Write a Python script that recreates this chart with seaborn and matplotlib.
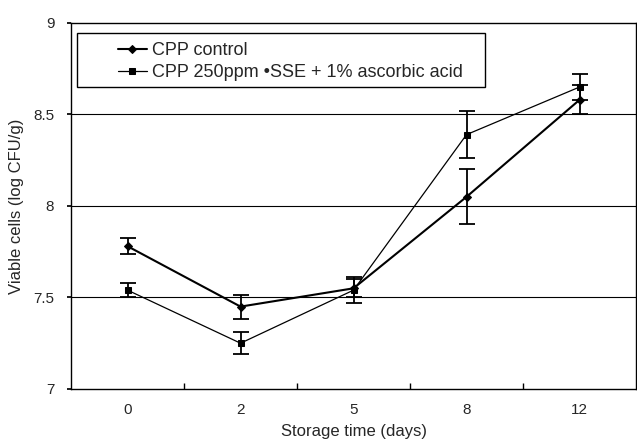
import numpy as np
import pandas as pd
import seaborn as sns
import matplotlib.pyplot as plt
from matplotlib.patches import Rectangle

days = ['0', '2', '5', '8', '12']
control = [7.78, 7.45, 7.55, 8.05, 8.58]
control_err = [0.045, 0.065, 0.05, 0.15, 0.08]
treated = [7.54, 7.25, 7.54, 8.39, 8.65]
treated_err = [0.04, 0.06, 0.07, 0.13, 0.07]
labels = ['CPP control', 'CPP 250ppm \u2022SSE + 1% ascorbic acid']

sns.set_theme(style="white")
plt.rcParams['font.family'] = ['Liberation Sans', 'DejaVu Sans']

pos = np.arange(len(days))
df = pd.DataFrame({
    'pos': np.concatenate([pos, pos]),
    'value': control + treated,
    'err': control_err + treated_err,
    'series': [labels[0]] * len(days) + [labels[1]] * len(days),
})

fig = plt.figure(figsize=(6.37, 4.42), dpi=100)
ax = fig.add_axes([0.1115, 0.12, 0.887, 0.828])

for lab, mk, ms, lw in [(labels[0], 'D', 4, 1.5), (labels[1], 's', 5, 0.9)]:
    d = df[df['series'] == lab]
    ax.errorbar(d['pos'], d['value'], yerr=d['err'], fmt='none',
                ecolor='black', elinewidth=1.3, capsize=6, capthick=1.3, zorder=3)
    sns.lineplot(x=d['pos'], y=d['value'], ax=ax, color='black', marker=mk,
                 markersize=ms, linewidth=lw, markeredgecolor='black',
                 label=lab, zorder=4)

ax.set_xlim(-0.5, len(days) - 0.5)
ax.set_ylim(7, 9)
ax.set_yticks([7, 7.5, 8, 8.5, 9])
ax.set_yticklabels(['7', '7.5', '8', '8.5', '9'], fontsize=11)
ax.set_xticks(pos)
ax.set_xticklabels(days, fontsize=11)
ax.set_xticks(pos[:-1] + 0.5, minor=True)
ax.tick_params(axis='x', which='major', length=0, pad=10)
ax.tick_params(axis='x', which='minor', direction='in', length=4, color='black', bottom=True)
ax.tick_params(axis='y', length=3, direction='out', color='black', left=True, pad=9)

for yv in [7.5, 8, 8.5]:
    ax.axhline(yv, color='black', linewidth=0.8, zorder=1)

for s in ax.spines.values():
    s.set_color('black')
    s.set_linewidth(1)

ax.set_xlabel('Storage time (days)', fontsize=12, labelpad=5)
ax.set_ylabel('Viable cells (log CFU/g)', fontsize=12, labelpad=7)

# legend frame drawn as a separate box, legend entries without frame
ax.add_patch(Rectangle((0.0106, 0.825), 0.722, 0.148, transform=ax.transAxes,
                       facecolor='white', edgecolor='black', linewidth=1, zorder=5))
leg = ax.legend(loc='upper left', bbox_to_anchor=(0.083, 0.948), fontsize=13,
                frameon=False, handlelength=1.6, handletextpad=0.3, borderpad=0,
                labelspacing=0.28, borderaxespad=0)
leg.set_zorder(6)

fig.savefig('out.png', dpi=100)
